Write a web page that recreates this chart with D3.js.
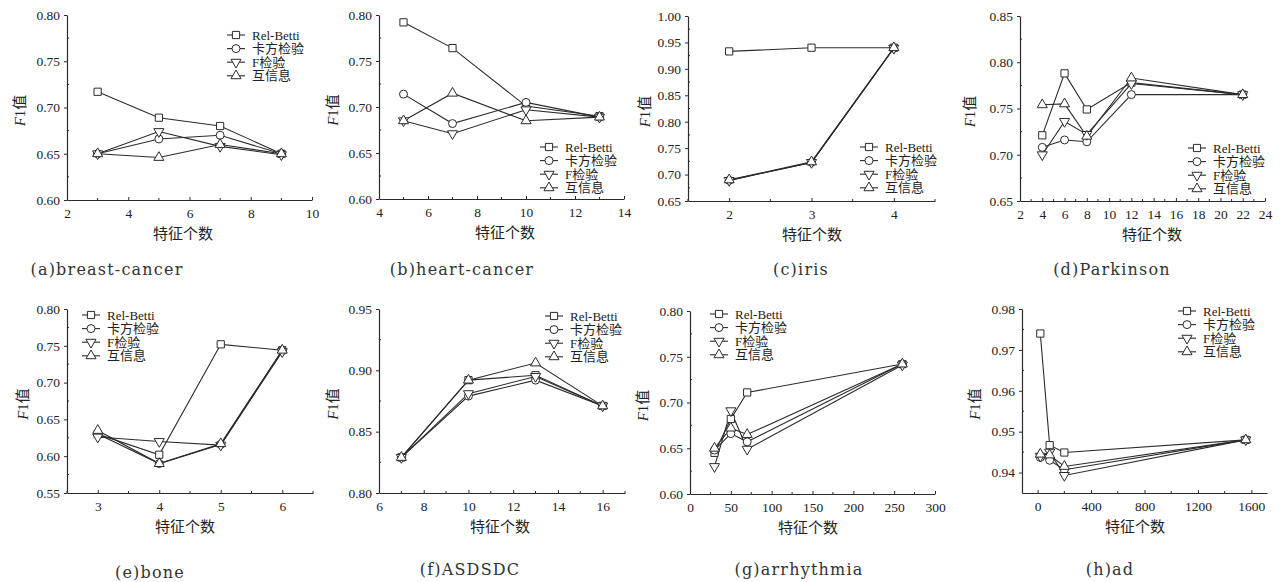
<!DOCTYPE html>
<html><head><meta charset="utf-8">
<script src="https://cdn.jsdelivr.net/npm/d3@7"></script>
<style>
html,body{margin:0;padding:0;background:#fff;}
svg{display:block;}
</style></head>
<body><svg id="chart" width="1287" height="582"></svg>
<script>
// ---------------- data ----------------
const seriesNames = ["Rel-Betti", "卡方检验", "F检验", "互信息"];
const captions = ["(a)breast-cancer", "(b)heart-cancer", "(c)iris", "(d)Parkinson",
                  "(e)bone", "(f)ASDSDC", "(g)arrhythmia", "(h)ad"];
const xTitle = "特征个数";

// (a) breast-cancer
const featA = [3, 5, 7, 9];
const relBettiA = [0.717, 0.689, 0.680, 0.650];
const chiA = [0.650, 0.666, 0.670, 0.650];
const fTestA = [0.650, 0.674, 0.658, 0.649];
const mutInfoA = [0.650, 0.646, 0.660, 0.650];
const xTicksA = [2, 4, 6, 8, 10];
const yTicksA = [0.60, 0.65, 0.70, 0.75, 0.80];

// (b) heart-cancer
const featB = [5, 7, 10, 13];
const relBettiB = [0.792, 0.764, 0.701, 0.690];
const chiB = [0.714, 0.682, 0.705, 0.689];
const fTestB = [0.685, 0.671, 0.697, 0.689];
const mutInfoB = [0.685, 0.715, 0.685, 0.689];
const xTicksB = [4, 6, 8, 10, 12, 14];
const yTicksB = [0.60, 0.65, 0.70, 0.75, 0.80];

// (c) iris
const featC = [2, 3, 4];
const relBettiC = [0.933, 0.940, 0.940];
const chiC = [0.689, 0.723, 0.939];
const fTestC = [0.689, 0.723, 0.939];
const mutInfoC = [0.690, 0.724, 0.940];
const xTicksC = [2, 3, 4];
const yTicksC = [0.65, 0.70, 0.75, 0.80, 0.85, 0.90, 0.95, 1.00];

// (d) Parkinson
const featD = [4, 6, 8, 12, 22];
const relBettiD = [0.721, 0.788, 0.749, 0.778, 0.765];
const chiD = [0.708, 0.716, 0.714, 0.765, 0.765];
const fTestD = [0.700, 0.736, 0.722, 0.777, 0.765];
const mutInfoD = [0.754, 0.755, 0.720, 0.783, 0.765];
const xTicksD = [2, 4, 6, 8, 10, 12, 14, 16, 18, 20, 22, 24];
const yTicksD = [0.65, 0.70, 0.75, 0.80, 0.85];

// (e) bone
const featE = [3, 4, 5, 6];
const relBettiE = [0.630, 0.602, 0.752, 0.744];
const chiE = [0.630, 0.590, 0.616, 0.744];
const fTestE = [0.626, 0.620, 0.615, 0.742];
const mutInfoE = [0.635, 0.590, 0.617, 0.744];
const xTicksE = [3, 4, 5, 6];
const yTicksE = [0.55, 0.60, 0.65, 0.70, 0.75, 0.80];

// (f) ASDSDC
const featF = [7, 10, 13, 16];
const relBettiF = [0.829, 0.892, 0.896, 0.871];
const chiF = [0.829, 0.879, 0.892, 0.871];
const fTestF = [0.829, 0.881, 0.895, 0.871];
const mutInfoF = [0.829, 0.892, 0.906, 0.871];
const xTicksF = [6, 8, 10, 12, 14, 16];
const yTicksF = [0.80, 0.85, 0.90, 0.95];

// (g) arrhythmia
const featG = [30, 50, 70, 260];
const relBettiG = [0.645, 0.682, 0.711, 0.742];
const chiG = [0.648, 0.666, 0.657, 0.742];
const fTestG = [0.630, 0.691, 0.649, 0.741];
const mutInfoG = [0.650, 0.672, 0.665, 0.742];
const xTicksG = [0, 50, 100, 150, 200, 250, 300];
const yTicksG = [0.60, 0.65, 0.70, 0.75, 0.80];

// (h) ad
const featH = [20, 90, 200, 1558];
const relBettiH = [0.974, 0.9467, 0.9449, 0.948];
const chiH = [0.9437, 0.943, 0.9407, 0.948];
const fTestH = [0.944, 0.945, 0.9393, 0.948];
const mutInfoH = [0.9445, 0.9443, 0.9415, 0.948];
const xTicksH = [0, 400, 800, 1200, 1600];
const yTicksH = [0.94, 0.95, 0.96, 0.97, 0.98];

// ---------------- layout ----------------
const panels = [
  {feat: featA, series: [relBettiA, chiA, fTestA, mutInfoA], xTicks: xTicksA, yTicks: yTicksA,
   xDomain: [2, 10], yDomain: [0.60, 0.80], left: 67, right: 312, top: 15, bottom: 200,
   legend: [227, 35], caption: [107, 275], titleX: 183, ylab: 47},
  {feat: featB, series: [relBettiB, chiB, fTestB, mutInfoB], xTicks: xTicksB, yTicks: yTicksB,
   xDomain: [4, 14], yDomain: [0.60, 0.80], left: 379, right: 624, top: 15, bottom: 199,
   legend: [540, 147], caption: [462, 275], titleX: 505, ylab: 46},
  {feat: featC, series: [relBettiC, chiC, fTestC, mutInfoC], xTicks: xTicksC, yTicks: yTicksC,
   xDomain: [1.5, 4.5], yDomain: [0.65, 1.00], left: 688, right: 935, top: 16, bottom: 201,
   legend: [860, 147], caption: [801, 275], titleX: 812, ylab: 43},
  {feat: featD, series: [relBettiD, chiD, fTestD, mutInfoD], xTicks: xTicksD, yTicks: yTicksD,
   xDomain: [2, 24], yDomain: [0.65, 0.85], left: 1020, right: 1265, top: 16, bottom: 201,
   legend: [1188, 148], caption: [1112, 275], titleX: 1152, ylab: 50},
  {feat: featE, series: [relBettiE, chiE, fTestE, mutInfoE], xTicks: xTicksE, yTicks: yTicksE,
   xDomain: [2.5, 6.5], yDomain: [0.55, 0.80], left: 67, right: 313, top: 309, bottom: 493,
   legend: [82, 315], caption: [150, 578], titleX: 185, ylab: 44},
  {feat: featF, series: [relBettiF, chiF, fTestF, mutInfoF], xTicks: xTicksF, yTicks: yTicksF,
   xDomain: [6, 17], yDomain: [0.80, 0.95], left: 379, right: 625, top: 309, bottom: 493,
   legend: [545, 316], caption: [470, 575], titleX: 500, ylab: 46},
  {feat: featG, series: [relBettiG, chiG, fTestG, mutInfoG], xTicks: xTicksG, yTicks: yTicksG,
   xDomain: [0, 300], yDomain: [0.60, 0.80], left: 690, right: 935, top: 311, bottom: 494,
   legend: [710, 314], caption: [799, 575], titleX: 808, ylab: 47},
  {feat: featH, series: [relBettiH, chiH, fTestH, mutInfoH], xTicks: xTicksH, yTicks: yTicksH,
   xDomain: [-117, 1717], yDomain: [0.935, 0.98], left: 1022, right: 1267, top: 309, bottom: 493,
   legend: [1178, 311], caption: [1110, 575], titleX: 1135, ylab: 47}
];

const INK = "#2b2b2b";
const svg = d3.select("#chart");
svg.append("rect").attr("width", 1287).attr("height", 582).attr("fill", "#fff");

const markerShapes = [
  d3.symbol().type(d3.symbolSquare).size(52),
  d3.symbol().type(d3.symbolCircle).size(50),
  d3.symbol().type(d3.symbolTriangle).size(44),
  d3.symbol().type(d3.symbolTriangle).size(44)
];
const markerRot = [0, 0, 180, 0];

function drawMarker(g, i, cx, cy) {
  g.append("path")
    .attr("d", markerShapes[i]())
    .attr("transform", `translate(${cx},${cy}) rotate(${markerRot[i]})`)
    .attr("fill", "#fff")
    .attr("stroke", INK)
    .attr("stroke-width", 1);
}

panels.forEach((p, pi) => {
  const x = d3.scaleLinear().domain(p.xDomain).range([p.left, p.right]);
  const y = d3.scaleLinear().domain(p.yDomain).range([p.bottom, p.top]);
  const g = svg.append("g");

  // y axis
  const yAxis = d3.axisLeft(y).tickValues(p.yTicks).tickFormat(d3.format(".2f"))
    .tickSizeInner(3).tickSizeOuter(0).tickPadding(4);
  const ya = g.append("g").attr("transform", `translate(${p.left},0)`).call(yAxis);
  // x axis
  const xAxis = d3.axisBottom(x).tickValues(p.xTicks).tickFormat(d3.format("d"))
    .tickSizeInner(-3).tickSizeOuter(0).tickPadding(8);
  const xa = g.append("g").attr("transform", `translate(0,${p.bottom})`).call(xAxis);
  [ya, xa].forEach(a => {
    a.attr("font-family", null).attr("font-size", null);
    a.select(".domain").attr("stroke", INK).attr("stroke-width", 1.2);
    a.selectAll(".tick line").attr("stroke", INK);
    a.selectAll(".tick text").attr("fill", "#222")
      .style("font-family", "'Liberation Serif', 'Times New Roman', serif").style("font-size", "13.5px");
  });

  // minor ticks (midpoints)
  const yt = p.yTicks;
  for (let i = 0; i < yt.length - 1; i++) {
    const v = (yt[i] + yt[i + 1]) / 2;
    g.append("line").attr("x1", p.left).attr("x2", p.left + 2)
      .attr("y1", y(v)).attr("y2", y(v)).attr("stroke", INK);
  }
  if (p.yDomain[0] < yt[0]) {
    const v = yt[0] - (yt[1] - yt[0]) / 2;
    if (v >= p.yDomain[0]) g.append("line").attr("x1", p.left).attr("x2", p.left + 2)
      .attr("y1", y(v)).attr("y2", y(v)).attr("stroke", INK);
  }
  const xt = p.xTicks;
  const step = xt[1] - xt[0];
  for (let v = xt[0] - step / 2; v <= p.xDomain[1] + 1e-9; v += step) {
    if (v < p.xDomain[0] - 1e-9) continue;
    if (xt.some(t => Math.abs(t - v) < 1e-9)) continue;
    g.append("line").attr("x1", x(v)).attr("x2", x(v))
      .attr("y1", p.bottom).attr("y2", p.bottom - 2).attr("stroke", INK);
  }

  // axis titles
  g.append("text").attr("x", p.titleX).attr("y", p.bottom + 39)
    .attr("text-anchor", "middle").attr("fill", "#222")
    .style("font-family", "'Noto Sans CJK SC', sans-serif").style("font-size", "15px")
    .text(xTitle);
  const cy = (p.top + p.bottom) / 2 + 3;
  const yl = g.append("text")
    .attr("transform", `translate(${p.left - p.ylab + 5},${cy}) rotate(-90)`)
    .attr("text-anchor", "middle").attr("fill", "#222").style("font-size", "15px");
  yl.append("tspan").style("font-family", "'Liberation Serif', serif").style("font-style", "italic").text("F");
  yl.append("tspan").style("font-family", "'Liberation Serif', serif").text("1");
  yl.append("tspan").style("font-family", "'Noto Sans CJK SC', sans-serif").text("值");

  // series
  const line = d3.line().x(d => x(d[0])).y(d => y(d[1]));
  p.series.forEach((vals, si) => {
    const pts = p.feat.map((f, k) => [f, vals[k]]);
    g.append("path").datum(pts).attr("d", line).attr("fill", "none")
      .attr("stroke", INK).attr("stroke-width", 1.1);
  });
  p.series.forEach((vals, si) => {
    p.feat.forEach((f, k) => drawMarker(g, si, x(f), y(vals[k])));
  });

  // legend
  const [lx, ly] = p.legend;
  seriesNames.forEach((name, si) => {
    const ry = ly + si * 13.6;
    g.append("line").attr("x1", lx).attr("x2", lx + 18).attr("y1", ry).attr("y2", ry)
      .attr("stroke", INK).attr("stroke-width", 1.1);
    drawMarker(g, si, lx + 9, ry);
    g.append("text").attr("x", lx + 25).attr("y", ry + 4.5).attr("fill", "#222")
      .style("font-family", "'Liberation Serif', 'Noto Sans CJK SC', serif")
      .style("font-size", "13px").text(name);
  });

  // caption
  g.append("text").attr("x", p.caption[0]).attr("y", p.caption[1])
    .attr("text-anchor", "middle").attr("fill", "#333")
    .style("font-family", "'DejaVu Serif', serif").style("font-size", "16px")
    .style("letter-spacing", "1.2px")
    .text(captions[pi]);
});
</script>
</body></html>
